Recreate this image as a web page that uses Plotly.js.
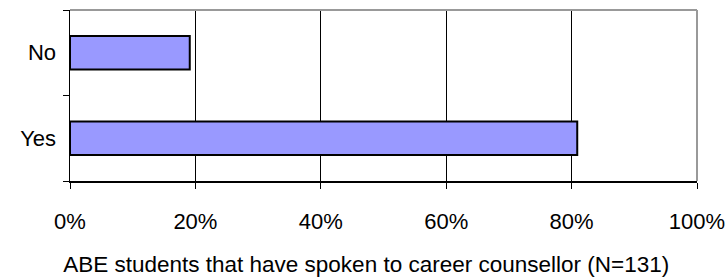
<!DOCTYPE html>
<html>
<head>
<meta charset="utf-8">
<script src="https://cdn.plot.ly/plotly-3.0.1.min.js"></script>
<style>html,body{margin:0;padding:0;background:#fff;}#chart{width:728px;height:279px;}</style>
</head>
<body>
<div id="chart"></div>
<script>
const categories = ["Yes", "No"];
const percentValues = [80.9, 19.1];
const xTickValues = [0, 20, 40, 60, 80, 100];
const xTickLabels = ["0%", "20%", "40%", "60%", "80%", "100%"];
const chartTitle = "ABE students that have spoken to career counsellor (N=131)";

const font = "Liberation Sans, Arial, sans-serif";

const trace = {
  type: "bar",
  orientation: "h",
  y: categories,
  x: percentValues,
  marker: { color: "#9999ff", line: { color: "#000000", width: 2 } },
  hoverinfo: "skip"
};

const layout = {
  width: 728,
  height: 279,
  margin: { l: 70, r: 31, t: 10, b: 98 },
  paper_bgcolor: "#ffffff",
  plot_bgcolor: "#ffffff",
  showlegend: false,
  bargap: 0.61,
  font: { family: font, size: 22, color: "#000000" },
  title: {
    text: chartTitle,
    font: { family: font, size: 22.5, color: "#000000" },
    xref: "container", x: 0.503, xanchor: "center",
    yref: "container", y: 1 - 264 / 279, yanchor: "middle"
  },
  xaxis: {
    range: [0, 100],
    tickvals: xTickValues,
    ticktext: xTickLabels,
    ticks: "outside",
    ticklen: 6,
    tickwidth: 1,
    tickcolor: "#000000",
    showgrid: true,
    gridcolor: "#000000",
    gridwidth: 1,
    zeroline: false,
    showline: true,
    linecolor: "#000000",
    linewidth: 1.5,
    ticklabelstandoff: 14,
    tickfont: { family: font, size: 22, color: "#000000" },
    fixedrange: true
  },
  yaxis: {
    type: "category",
    range: [-0.5, 1.5],
    tickson: "boundaries",
    ticks: "outside",
    ticklen: 6,
    tickwidth: 1,
    tickcolor: "#000000",
    showgrid: false,
    zeroline: false,
    showline: true,
    linecolor: "#000000",
    linewidth: 1.5,
    ticklabelstandoff: 8,
    tickfont: { family: font, size: 22, color: "#000000" },
    fixedrange: true
  },
  shapes: [
    { type: "line", xref: "paper", yref: "paper", x0: 0, x1: 1, y0: 1, y1: 1, line: { color: "#999999", width: 2 } },
    { type: "line", xref: "paper", yref: "paper", x0: 1, x1: 1, y0: 0, y1: 1, line: { color: "#999999", width: 2 } }
  ]
};

Plotly.newPlot("chart", [trace], layout, { displayModeBar: false, staticPlot: true });
</script>
</body>
</html>
